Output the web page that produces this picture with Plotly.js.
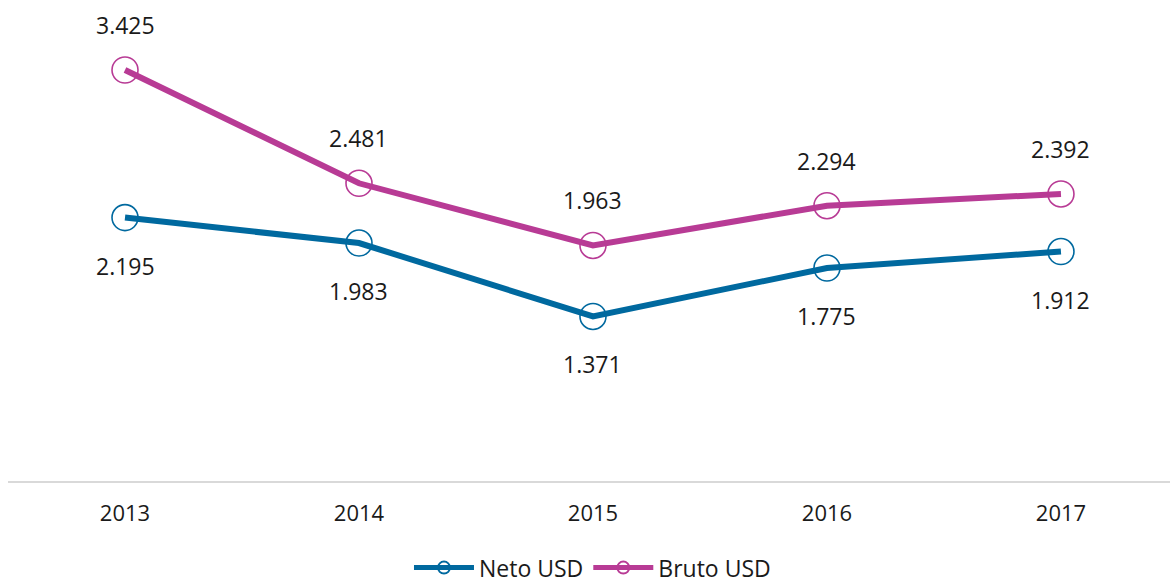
<!DOCTYPE html>
<html>
<head>
<meta charset="utf-8">
<script src="https://cdn.plot.ly/plotly-3.0.1.min.js"></script>
<style>html,body{margin:0;padding:0;background:#fff;}#chart{width:1170px;height:584px;}</style>
</head>
<body>
<div id="chart"></div>
<script>
const years = ['2013', '2014', '2015', '2016', '2017'];
const netoUSD = [2.195, 1.983, 1.371, 1.775, 1.912];
const brutoUSD = [3.425, 2.481, 1.963, 2.294, 2.392];
const netoLabels = ['2.195', '1.983', '1.371', '1.775', '1.912'];
const brutoLabels = ['3.425', '2.481', '1.963', '2.294', '2.392'];

const blue = '#00699f';
const magenta = '#b83b95';
const fontFam = '"Open Sans", "Noto Sans", sans-serif';

const traces = [
  {
    name: 'Neto USD', x: years, y: netoUSD, type: 'scatter', mode: 'lines+markers',
    line: {color: blue, width: 6},
    marker: {symbol: 'circle-open', size: 26, color: blue, line: {width: 1.6, color: blue}},
    hoverinfo: 'skip'
  },
  {
    name: 'Bruto USD', x: years, y: brutoUSD, type: 'scatter', mode: 'lines+markers',
    line: {color: magenta, width: 6},
    marker: {symbol: 'circle-open', size: 26, color: magenta, line: {width: 1.6, color: magenta}},
    hoverinfo: 'skip'
  }
];

const annotations = [];
years.forEach((yr, i) => {
  annotations.push({xref: 'x', yref: 'y', x: i, y: brutoUSD[i], text: brutoLabels[i], showarrow: false, yshift: 45,
    font: {family: fontFam, size: 23, color: '#1a1a1a'}});
  annotations.push({xref: 'x', yref: 'y', x: i, y: netoUSD[i], text: netoLabels[i], showarrow: false, yshift: -48,
    font: {family: fontFam, size: 23, color: '#1a1a1a'}});
});

const layout = {
  width: 1170, height: 584,
  margin: {l: 8, r: 0, t: 1, b: 103},
  paper_bgcolor: '#fff', plot_bgcolor: '#fff',
  showlegend: true,
  legend: {orientation: 'h', x: 0.503, xanchor: 'center', xref: 'paper',
    y: 0.028, yanchor: 'middle', yref: 'container', itemsizing: 'constant',
    font: {family: fontFam, size: 23, color: '#1a1a1a'}, itemwidth: 60, tracegroupgap: 0},
  xaxis: {type: 'category', range: [-0.5, 4.466], showgrid: false, zeroline: false,
    showline: true, linecolor: '#d9d9d9', linewidth: 2,
    ticks: 'outside', ticklen: 12, tickcolor: 'rgba(0,0,0,0)',
    tickfont: {family: fontFam, size: 22, color: '#1a1a1a'}, fixedrange: true},
  yaxis: {range: [0, 4], visible: false, showgrid: false, zeroline: false, fixedrange: true},
  annotations: annotations
};

Plotly.newPlot('chart', traces, layout, {staticPlot: true, displayModeBar: false});
</script>
</body>
</html>
